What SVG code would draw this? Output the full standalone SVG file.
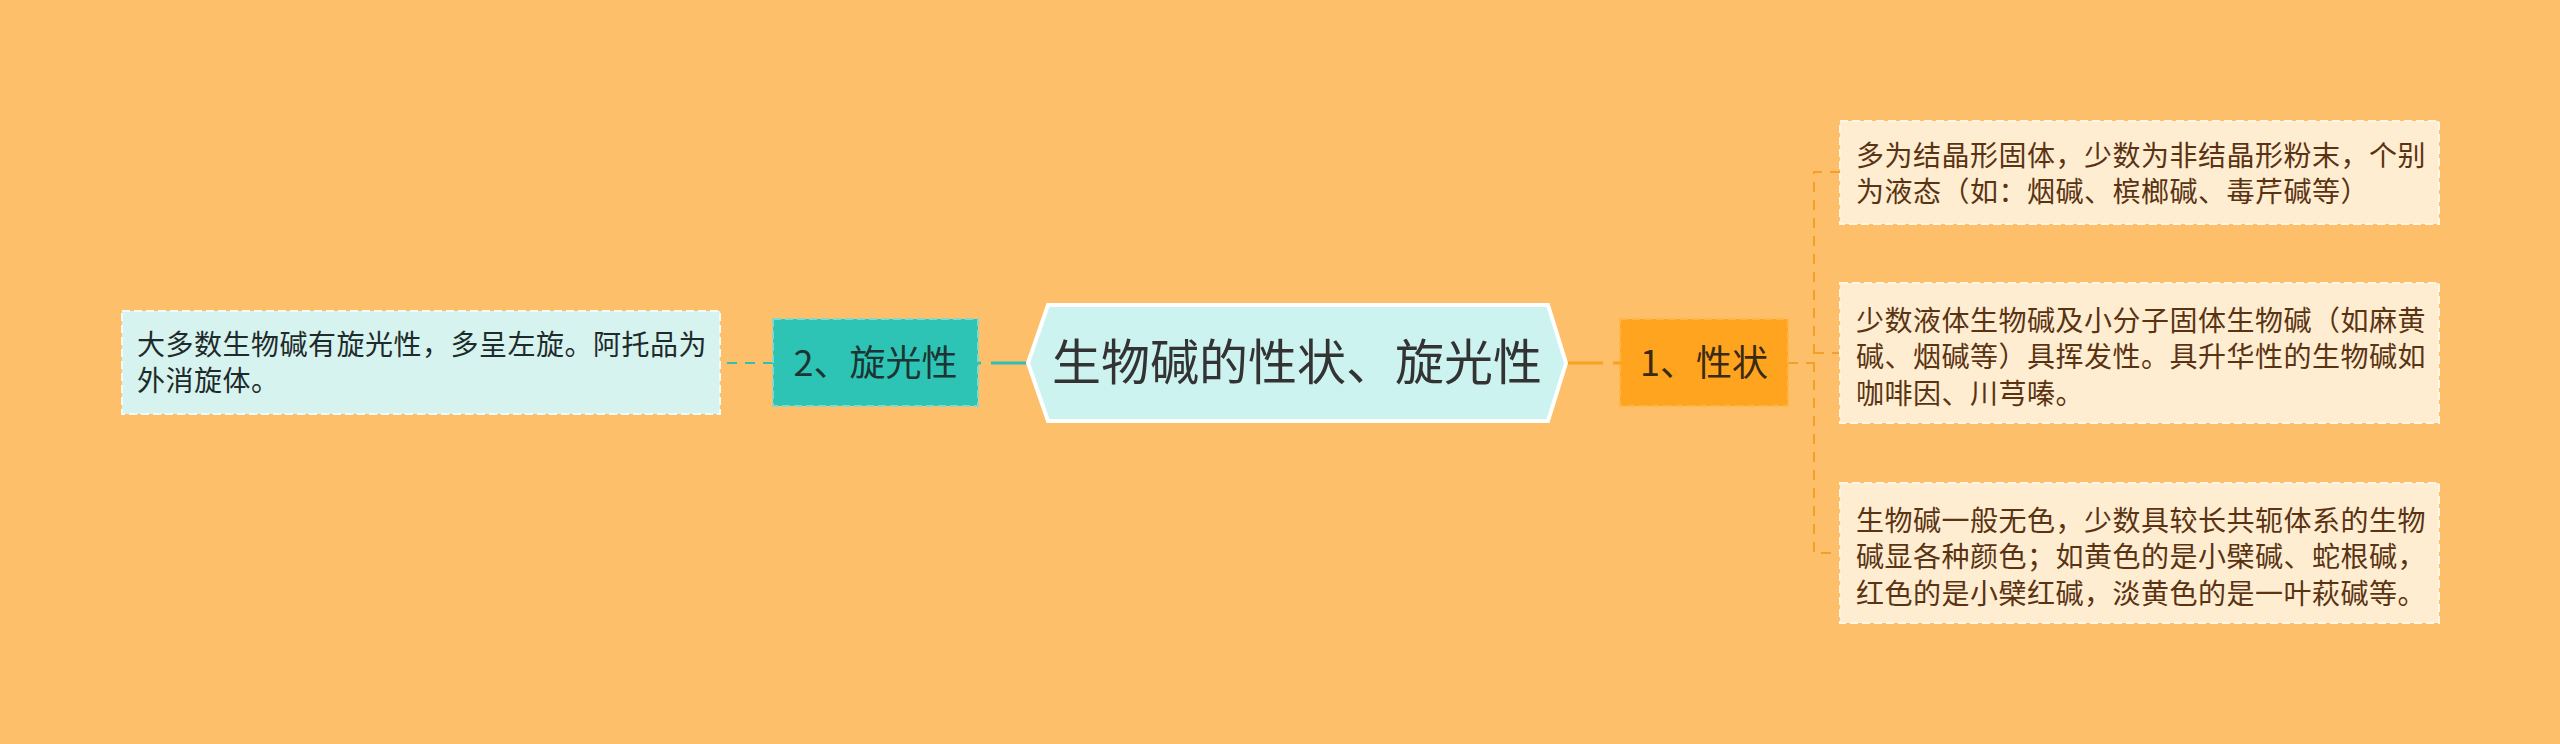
<svg xmlns="http://www.w3.org/2000/svg" width="2560" height="744" viewBox="0 0 2560 744">
<style>
text{font-family:"Noto Sans CJK SC","Noto Sans",sans-serif;}
.leaf{font-size:28px;letter-spacing:0.5px;}
.lvl{font-size:36px;}
.main{font-size:49px;fill:#333333;}
.rl{fill:#FFEDD2;stroke:#FFF6E6;stroke-width:2;stroke-dasharray:8 4;}
.ll{fill:#D6F3EF;stroke:#F2FBF9;stroke-width:2;stroke-dasharray:8 4;}
.c-or{fill:none;stroke:#F7A11F;stroke-width:3;stroke-dasharray:37 10;}
.c-te{fill:none;stroke:#2EC0B2;stroke-width:3;stroke-dasharray:37 10;}
.b-or{fill:none;stroke:#F2A02A;stroke-width:2;stroke-dasharray:10 8;}
.b-te{fill:none;stroke:#2EC0B2;stroke-width:2;stroke-dasharray:10 8;}
</style>
<rect x="0" y="0" width="2560" height="744" fill="#FEBF6A"/>
<g id="connectors">
<path class="c-or" d="M1566,363 L1620,363"/>
<path class="c-te" d="M1028,363 L977,363"/>
<path class="b-te" d="M773,363 L720,363"/>
<path class="b-or" d="M1788,363 L1814,363"/>
<path class="b-or" d="M1840,172 L1814,172 L1814,553 L1840,553"/>
<path class="b-or" d="M1814,353 L1840,353"/>
</g>
<g id="center">
<polygon points="1028,363 1048,305 1548,305 1566,363 1548,421 1048,421" fill="#CCF3EF" stroke="#FFFFFF" stroke-width="4"/>
<text class="main" x="1297" y="380" text-anchor="middle">生物碱的性状、旋光性</text>
</g>
<g id="n1">
<rect x="1620" y="319" width="168" height="87" fill="#FFA41F" stroke="#FFB648" stroke-width="2" stroke-dasharray="8 4"/>
<text class="lvl" x="1704" y="376" text-anchor="middle" fill="#3A2A12">1、性状</text>
</g>
<g id="n2">
<rect x="773" y="319" width="205" height="87" fill="#2EC4B5" stroke="#7ED9CF" stroke-width="2" stroke-dasharray="8 4"/>
<text class="lvl" x="875.5" y="376" text-anchor="middle" fill="#1C3532">2、旋光性</text>
</g>
<g id="leaf-left">
<rect class="ll" x="122" y="311" width="598" height="103"/>
<text class="leaf" fill="#1E2B2A"><tspan x="137" y="355">大多数生物碱有旋光性，多呈左旋。阿托品为</tspan><tspan x="137" y="391">外消旋体。</tspan></text>
</g>
<g id="leaf-r1">
<rect class="rl" x="1840" y="121" width="599" height="103"/>
<text class="leaf" fill="#5A3412"><tspan x="1856" y="166">多为结晶形固体，少数为非结晶形粉末，个别</tspan><tspan x="1856" y="202">为液态（如：烟碱、槟榔碱、毒芹碱等）</tspan></text>
</g>
<g id="leaf-r2">
<rect class="rl" x="1840" y="283" width="599" height="140"/>
<text class="leaf" fill="#5A3412"><tspan x="1856" y="331">少数液体生物碱及小分子固体生物碱（如麻黄</tspan><tspan x="1856" y="367">碱、烟碱等）具挥发性。具升华性的生物碱如</tspan><tspan x="1856" y="404">咖啡因、川芎嗪。</tspan></text>
</g>
<g id="leaf-r3">
<rect class="rl" x="1840" y="483" width="599" height="140"/>
<text class="leaf" fill="#5A3412"><tspan x="1856" y="531">生物碱一般无色，少数具较长共轭体系的生物</tspan><tspan x="1856" y="567">碱显各种颜色；如黄色的是小檗碱、蛇根碱，</tspan><tspan x="1856" y="604">红色的是小檗红碱，淡黄色的是一叶萩碱等。</tspan></text>
</g>
</svg>
